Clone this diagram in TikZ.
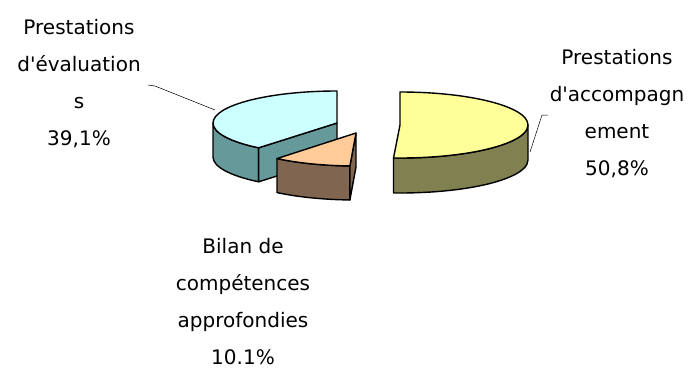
\documentclass[tikz,border=0pt]{standalone}
\usepackage{fontspec}
\newfontfamily\chartfont{DejaVu Sans}
\usetikzlibrary{calc}
\definecolor{evaltop}{HTML}{CCFFFF}
\definecolor{evalside}{HTML}{669999}
\definecolor{biltop}{HTML}{FFCC99}
\definecolor{bilside}{HTML}{806650}
\definecolor{acctop}{HTML}{FFFF99}
\definecolor{accside}{HTML}{808050}

\begin{document}
\begin{tikzpicture}[x=1pt,y=1pt,
  slice/.style={draw=black,line width=1.4pt,line join=round},
  leader/.style={draw=black,line width=0.5pt},
  lbl/.style={align=center,inner sep=0pt,font=\chartfont\fontsize{20}{37}\selectfont}]
 \useasboundingbox (0,0) rectangle (688,-370);
 % evaluations
 \coordinate (ev) at (337,-123);
 \filldraw[slice,fill=evalside] ($(ev)+(180:124pt and 32pt)$) arc[start angle=180,end angle=230.8,x radius=124pt,y radius=32pt] -- ++(0,-34) arc[start angle=230.8,end angle=180,x radius=124pt,y radius=32pt] -- cycle;
 \filldraw[slice,fill=evalside] (ev) -- ++(230.8:124pt and 32pt) -- ++(0,-34) -- ($(ev)+(0,-34)$) -- cycle;
 \filldraw[slice,fill=evaltop] (ev) -- ++(90:124pt and 32pt) arc[start angle=90,end angle=230.8,x radius=124pt,y radius=32pt] -- cycle;
 % accompagnement
 \coordinate (acc) at (400,-125);
 \filldraw[slice,fill=accside] ($(acc)+(-92.9:128pt and 33pt)$) arc[start angle=-92.9,end angle=0,x radius=128pt,y radius=33pt] -- ++(0,-35) arc[start angle=0,end angle=-92.9,x radius=128pt,y radius=33pt] -- cycle;
 \filldraw[slice,fill=acctop] (acc) -- ++(90:128pt and 33pt) arc[start angle=90,end angle=-92.9,x radius=128pt,y radius=33pt] -- cycle;
 % bilan
 \coordinate (bil) at (356,-133);
 \filldraw[slice,fill=bilside] ($(bil)+(230.8:125pt and 33pt)$) arc[start angle=230.8,end angle=267.2,x radius=125pt,y radius=33pt] -- ++(0,-34) arc[start angle=267.2,end angle=230.8,x radius=125pt,y radius=33pt] -- cycle;
 \filldraw[slice,fill=bilside] (bil) -- ++(267.2:125pt and 33pt) -- ++(0,-34) -- ($(bil)+(0,-34)$) -- cycle;
 \filldraw[slice,fill=biltop] (bil) -- ++(230.8:125pt and 33pt) arc[start angle=230.8,end angle=267.2,x radius=125pt,y radius=33pt] -- cycle;
 % labels
 \node[lbl] (evl) at (79,-84) {Prestations\\d'évaluation\\s\\39,1\%};
 \node[lbl] (accl) at (617,-114) {Prestations\\d'accompagn\\ement\\50,8\%};
 \node[lbl] (bill) at (243,-302) {Bilan de\\compétences\\approfondies\\10.1\%};
 % leaders
 \coordinate (evs) at (148,-85);
 \coordinate (evk) at (155,-86);
 \coordinate (eve) at (215,-110);
 \draw[leader] (evs) -- (evk) -- (eve);
 \coordinate (accs) at (548,-115);
 \coordinate (acck) at (542,-115);
 \coordinate (acce) at (530,-152);
 \draw[leader] (accs) -- (acck) -- (acce);
\end{tikzpicture}
\end{document}
